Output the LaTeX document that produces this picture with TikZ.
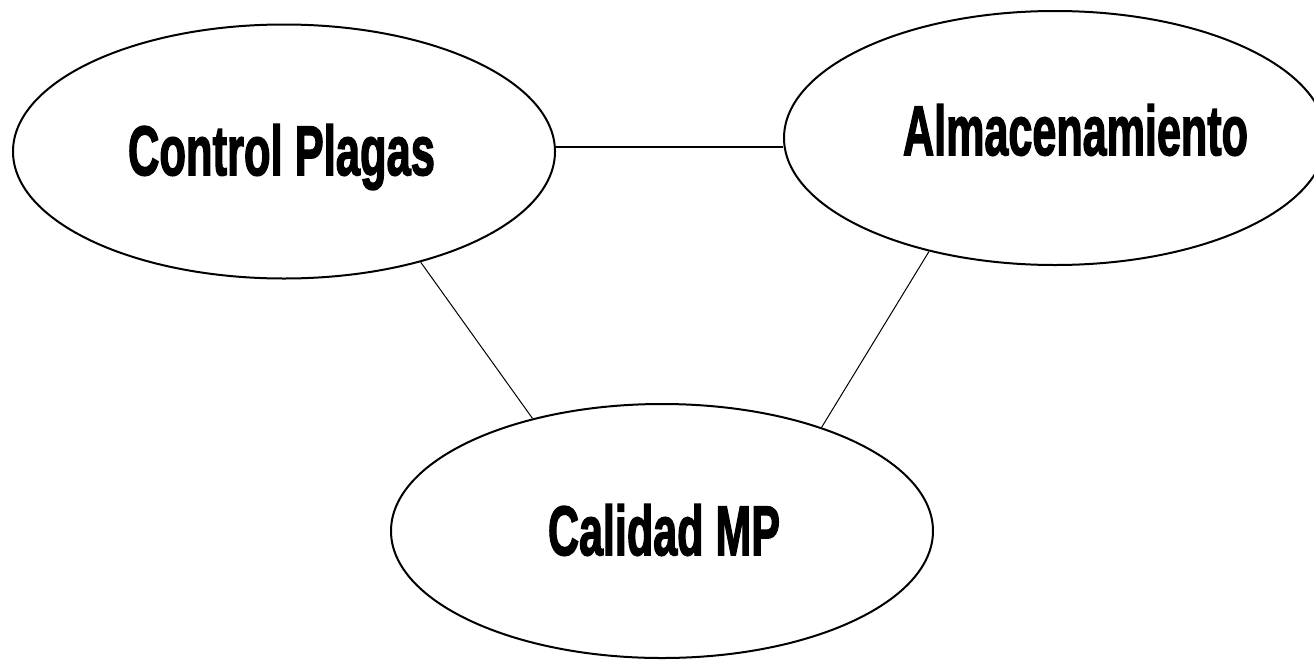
\documentclass[tikz,border=0pt]{standalone}
\usepackage{fontspec}
\setmainfont{Liberation Sans}
\newfontfamily\heavyfont[FakeBold=2.5]{Liberation Sans Bold}
\usetikzlibrary{shapes.geometric}
\tikzset{
  oval/.style={shape=ellipse, draw=black, line width=2pt, inner sep=0pt,
    minimum width=542pt, minimum height=254pt},
  label text/.style={inner sep=0pt, anchor=base, font=\heavyfont\fontsize{70}{70}\selectfont},
  thickline/.style={draw=black, line width=2pt},
  thinline/.style={draw=black, line width=1pt},
}
\begin{document}
\begin{tikzpicture}[x=1pt,y=-1pt]
\useasboundingbox (0,0) rectangle (1314,659);
\clip (0,0) rectangle (1314,659);
\fill[white] (0,0) rectangle (1314,659);
\node[oval] (cp) at (284,151.5) {};
\node[oval] (al) at (1055,138) {};
\node[oval] (mp) at (662,531) {};
\node[label text] (cpt) at (281.5,175) {\resizebox{307pt}{\height}{Control Plagas}};
\node[label text] (alt) at (1075.5,155) {\resizebox{345pt}{\height}{Almacenamiento}};
\node[label text] (mpt) at (664,555) {\resizebox{232pt}{\height}{Calidad MP}};
\coordinate (hl) at (cp.1.2);
\draw[thickline] (hl) -- (hl -| al.west);
\draw[thinline] (cp.-39) -- (mp.139.7);
\draw[thinline] (al.222) -- (mp.33);
\end{tikzpicture}
\end{document}
